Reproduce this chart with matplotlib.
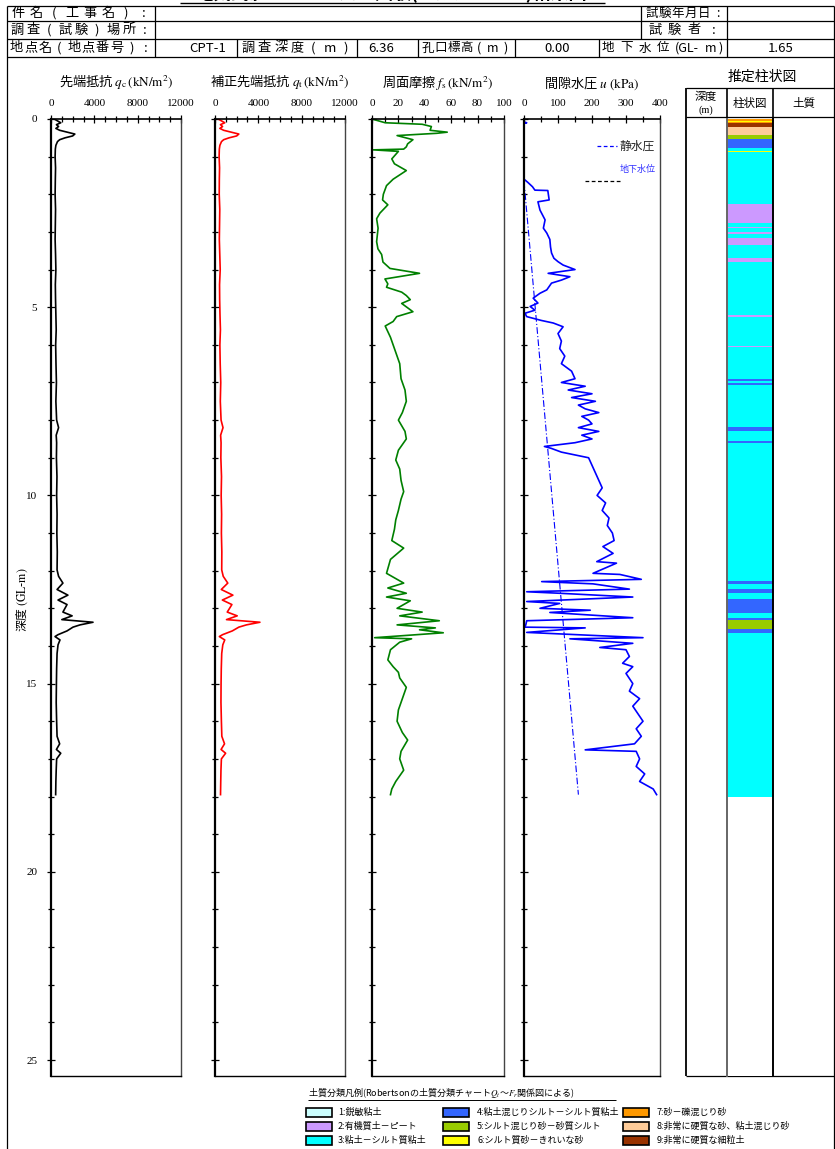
import matplotlib.pyplot as plt
from matplotlib.patches import Rectangle
from matplotlib.ticker import MultipleLocator

plt.rcParams['font.family'] = ['Noto Sans CJK JP', 'DejaVu Sans']
plt.rcParams['mathtext.fontset'] = 'stix'

W, H = 835, 1149

# ---- data ----
gwl = 1.65  # 地下水位 (GL-m)

qc_depth = [0.00, 0.05, 0.10, 0.15, 0.20, 0.25, 0.30, 0.35, 0.40, 0.45,
            0.50, 0.55, 0.60, 0.70, 0.80, 1.00, 1.30, 1.60, 2.00, 2.40,
            2.80, 3.20, 3.60, 4.00, 4.40, 4.80, 5.20, 5.60, 6.00, 6.50,
            7.00, 7.50, 8.00, 8.20, 8.40, 8.60, 9.00, 9.50, 10.0, 10.5,
            11.0, 11.5, 11.98, 12.15, 12.33, 12.50, 12.65, 12.78, 12.90, 13.10,
            13.20, 13.30, 13.37, 13.44, 13.50, 13.60, 13.70, 13.75, 13.84, 13.97,
            14.20, 14.60, 15.0, 15.5, 16.0, 16.4, 16.6, 16.75, 16.85, 17.0,
            17.3, 17.6, 17.95]
qc = [300, 600, 900, 500, 700, 450, 800, 1500, 2200, 2000,
      1300, 800, 600, 450, 400, 380, 420, 400, 380, 420,
      400, 380, 420, 450, 400, 420, 450, 480, 430, 460,
      500, 450, 520, 700, 480, 520, 500, 550, 520, 560,
      540, 580, 560, 700, 1100, 560, 1560, 650, 1480, 1100,
      1950, 1000, 3880, 2680, 2030, 1480, 650, 370, 830, 650,
      560, 520, 500, 480, 520, 560, 800, 500, 900, 520,
      480, 450, 430]

qt_depth = list(qc_depth)
qt = [300, 600, 900, 500, 700, 450, 800, 1500, 2200, 2000,
      1300, 800, 600, 450, 400, 380, 420, 400, 390, 440,
      420, 400, 440, 480, 420, 430, 460, 500, 450, 480,
      530, 490, 560, 740, 520, 560, 540, 600, 570, 610,
      590, 630, 620, 760, 1180, 580, 1650, 680, 1560, 1130,
      2050, 1060, 4150, 2900, 2200, 1600, 700, 400, 900, 720,
      620, 580, 560, 550, 590, 630, 880, 560, 980, 590,
      550, 530, 510]

fs_depth = [0.00, 0.10, 0.14, 0.20, 0.30, 0.35, 0.38, 0.44, 0.55, 0.66,
            0.74, 0.80, 0.82, 0.86, 1.06, 1.19, 1.37, 1.60, 1.77, 2.00,
            2.15, 2.28, 2.50, 2.65, 2.90, 3.26, 3.45, 3.60, 3.80, 3.97,
            4.10, 4.25, 4.38, 4.47, 4.60, 4.69, 4.80, 4.90, 5.12, 5.25,
            5.38, 5.50, 5.80, 6.10, 6.50, 6.90, 7.20, 7.50, 7.80, 8.00,
            8.30, 8.50, 8.80, 9.06, 9.30, 9.60, 9.90, 10.1, 10.4, 10.65,
            10.9, 11.2, 11.4, 11.7, 12.07, 12.33, 12.46, 12.60, 12.70, 12.80,
            13.00, 13.10, 13.20, 13.33, 13.44, 13.52, 13.57, 13.65, 13.78, 13.81,
            13.90, 14.10, 14.37, 14.55, 14.70, 14.85, 15.1, 15.4, 15.7, 16.0,
            16.3, 16.5, 16.8, 17.0, 17.3, 17.6, 17.8, 17.95]
fs = [0, 10, 38, 45, 44, 57, 49, 19, 31, 27,
      26, 24, 1, 20, 15, 17, 26, 16, 11, 8.6,
      8, 12, 6, 3.5, 4.6, 3.5, 4.5, 7.3, 8.3, 13.6,
      36, 9.8, 12, 11, 22.5, 26, 29, 22.5, 31, 18.7,
      16, 10, 14, 17, 21, 22, 25, 26, 23, 20,
      25, 26, 20, 18, 21, 22, 24, 22, 20, 18,
      17, 15, 24, 14, 11, 24, 12, 26, 11, 29,
      19, 38, 21, 51, 19, 48, 36, 54, 2, 30,
      21, 14, 12, 16, 20, 21, 26, 23, 20, 19,
      23, 27, 22, 21, 24, 18, 15, 14]

u_depth = [0.00, 0.08, 0.10, 0.12, 1.60, 1.62, 1.69, 1.80, 1.89, 1.90,
           2.15, 2.20, 2.42, 2.68, 2.90, 3.03, 3.20, 3.40, 3.56, 3.70,
           3.79, 3.88, 4.00, 4.10, 4.19, 4.28, 4.36, 4.54, 4.63, 4.76,
           4.89, 4.98, 5.08, 5.16, 5.25, 5.35, 5.42, 5.52, 5.70, 5.90,
           6.10, 6.30, 6.50, 6.70, 6.90, 7.00, 7.10, 7.20, 7.30, 7.40,
           7.50, 7.60, 7.70, 7.80, 7.90, 8.00, 8.10, 8.20, 8.30, 8.40,
           8.50, 8.60, 8.70, 8.75, 8.85, 9.00, 9.20, 9.40, 9.60, 9.80,
           10.0, 10.2, 10.4, 10.6, 10.8, 11.0, 11.2, 11.36, 11.54, 11.76,
           11.80, 12.07, 12.10, 12.23, 12.29, 12.35, 12.49, 12.56, 12.60, 12.70,
           12.82, 12.87, 13.00, 13.05, 13.11, 13.25, 13.33, 13.45, 13.50, 13.52,
           13.64, 13.78, 13.81, 13.93, 14.04, 14.10, 14.28, 14.46, 14.55, 14.73,
           15.0, 15.2, 15.4, 15.6, 15.8, 16.0, 16.2, 16.4, 16.6, 16.76,
           16.8, 17.0, 17.2, 17.4, 17.6, 17.8, 17.95]
u = [0, 0, 8, 0, 0, 3, 12, 25, 32, 70,
     74, 41, 47, 62, 57, 67, 76, 78, 81, 88,
     100, 115, 150, 71, 135, 110, 81, 67, 47, 27,
     41, 18, 32, 3, 8, 50, 86, 115, 100, 110,
     105, 120, 110, 140, 150, 110, 180, 130, 200, 140,
     210, 160, 180, 220, 170, 190, 200, 160, 220, 170,
     200, 150, 60, 80, 110, 190, 200, 210, 220, 230,
     215, 240, 230, 250, 245, 260, 265, 232, 262, 214,
     272, 203, 282, 345, 52, 203, 310, 8, 105, 320,
     8, 105, 47, 195, 76, 320, 8, 5, 0, 180,
     8, 350, 135, 320, 223, 300, 310, 290, 320, 300,
     320, 310, 340, 320, 335, 350, 330, 345, 325, 180,
     330, 340, 330, 355, 340, 380, 390]

hyd_depth = [gwl, 17.95]
hyd_u = [0, 160]

layer_top = [0.00, 0.04, 0.07, 0.11, 0.20, 0.42, 0.53, 0.78, 0.84, 0.87,
             2.26, 2.77, 2.87, 2.90, 3.00, 3.05, 3.15, 3.36, 3.68, 3.80,
             5.22, 5.25, 6.02, 6.05, 6.92, 6.96, 7.02, 7.06, 8.18, 8.30,
             8.56, 8.60, 12.28, 12.35, 12.49, 12.59, 12.75, 13.12, 13.26, 13.31,
             13.55, 13.66]
layer_bot = [0.04, 0.07, 0.11, 0.20, 0.42, 0.53, 0.78, 0.84, 0.87, 2.26,
             2.77, 2.87, 2.90, 3.00, 3.05, 3.15, 3.36, 3.68, 3.80, 5.22,
             5.25, 6.02, 6.05, 6.92, 6.96, 7.02, 7.06, 8.18, 8.30, 8.56,
             8.60, 12.28, 12.35, 12.49, 12.59, 12.75, 13.12, 13.26, 13.31, 13.55,
             13.66, 18.00]
layer_type = [7, 6, 7, 9, 8, 5, 4, 3, 6, 3,
              2, 3, 2, 3, 2, 3, 2, 3, 2, 3,
              2, 3, 2, 3, 4, 3, 4, 3, 4, 3,
              4, 3, 4, 3, 4, 3, 4, 3, 4, 5,
              4, 3]

soil_colors = {1: '#CCFFFF', 2: '#CC99FF', 3: '#00FFFF', 4: '#3366FF', 5: '#99CC00',
               6: '#FFFF00', 7: '#FF9900', 8: '#FFCC99', 9: '#993300'}
soil_names = ['1:鋭敏粘土', '2:有機質土－ピート', '3:粘土－シルト質粘土',
              '4:粘土混じりシルト－シルト質粘土', '5:シルト混じり砂－砂質シルト',
              '6:シルト質砂－きれいな砂', '7:砂－礫混じり砂',
              '8:非常に硬質な砂、粘土混じり砂', '9:非常に硬質な細粒土']

# ---- layout helpers (pixel coordinates) ----
def rect(x0, y0, x1, y1):
    return [x0 / W, 1 - y1 / H, (x1 - x0) / W, (y1 - y0) / H]

TOP, BOT = 119, 1076
DMAX = (BOT - TOP) / 37.64

fig = plt.figure(figsize=(W / 100, H / 100), dpi=100)
bg = fig.add_axes([0, 0, 1, 1])
bg.set_xlim(0, W)
bg.set_ylim(H, 0)
bg.axis('off')

def hline(y, x0, x1, lw=0.9):
    bg.plot([x0, x1], [y, y], color='black', lw=lw, solid_capstyle='butt')

def vline(x, y0, y1, lw=0.9):
    bg.plot([x, x], [y0, y1], color='black', lw=lw, solid_capstyle='butt')

def spread(tokens, x0, x1, y, size=9.5):
    n = len(tokens)
    step = (x1 - x0) / n
    for i, t in enumerate(tokens):
        bg.text(x0 + step * (i + 0.5), y, t, ha='center', va='center', fontsize=size)

# header title (its upper part lies above the page edge, as in the original)
bg.text(392, 3, '電気式静的コーン貫入試験(三成分コーン)結果図', ha='center', va='bottom',
        fontsize=13, fontweight='bold', clip_on=True)
hline(3, 180, 605, lw=1.0)

# header table
for y in [6, 21, 39, 57]:
    hline(y, 7, 834)
vline(7, 6, H)
vline(834, 6, H)
vline(155, 6, 57)
vline(727, 6, 57)
vline(641, 6, 39)
for x in [237, 357, 418, 515, 599]:
    vline(x, 39, 57)

spread(['件', '名', '(', '工', '事', '名', ')', ':'], 9, 153, 13.5)
spread(['調', '査', '(', '試', '験', ')', '場', '所', ':'], 9, 153, 30)
spread(['地', '点', '名', '(', '地', '点', '番', '号', ')', ':'], 9, 153, 48)
spread(['試', '験', '年', '月', '日', ':'], 645, 724, 13.5, size=9)
spread(['試', '験', '者', ':'], 645, 724, 30)
spread(['調', '査', '深', '度', '(', 'm', ')'], 240, 354, 48)
spread(['孔', '口', '標', '高', '(', 'm', ')'], 421, 512, 48, size=9)
for x, t in [(608, '地'), (627, '下'), (645, '水'), (663, '位'), (687, '(GL-'),
             (711, 'm'), (721, ')')]:
    bg.text(x, 48, t, ha='center', va='center', fontsize=9)
for x, t in [(208, 'CPT-1'), (381, '6.36'), (557, '0.00'), (781, '1.65')]:
    bg.text(x, 48, t, ha='center', va='center', fontsize=9.5)

# ---- CPT panels ----
panels = [
    (51, 181, qc_depth, qc, 'black', 12000, 4000, 1000, r'先端抵抗 $q_{\rm c}\,(\mathrm{kN/m^2})$'),
    (215, 345, qt_depth, qt, 'red', 12000, 4000, 1000, r'補正先端抵抗 $q_{\rm t}\,(\mathrm{kN/m^2})$'),
    (372, 504, fs_depth, fs, 'green', 100, 20, 10, r'周面摩擦 $f_{\rm s}\,(\mathrm{kN/m^2})$'),
    (524, 660, u_depth, u, 'blue', 400, 100, 50, r'間隙水圧 $u\ (\mathrm{kPa})$'),
]
axes = []
for i, (x0, x1, dep, val, col, xmax, major, minor, title) in enumerate(panels):
    ax = fig.add_axes(rect(x0, TOP, x1, BOT))
    ax.plot(val, dep, color=col, lw=1.2)
    ax.set_xlim(0, xmax)
    ax.set_ylim(DMAX, 0)
    ax.xaxis.tick_top()
    ax.xaxis.set_major_locator(MultipleLocator(major))
    ax.xaxis.set_minor_locator(MultipleLocator(minor))
    ax.yaxis.set_major_locator(MultipleLocator(5))
    ax.yaxis.set_minor_locator(MultipleLocator(1))
    ax.tick_params(which='both', direction='inout', top=True, bottom=False,
                   left=True, right=False, width=0.9, labelsize=8,
                   labelfontfamily='Liberation Serif', pad=5)
    ax.tick_params(which='major', length=6)
    ax.tick_params(which='minor', length=4)
    ax.tick_params(axis='y', labelleft=(i == 0), pad=7)
    ax.spines['left'].set_linewidth(1.6)
    ax.spines['top'].set_linewidth(1.2)
    ax.spines['right'].set_color('#444444')
    ax.spines['right'].set_linewidth(1.0)
    ax.spines['bottom'].set_linewidth(1.0)
    bg.text((x0 + x1) / 2, 83, title, ha='center', va='center', fontsize=9.5)
    axes.append(ax)

bg.text(22, 600, r'深度 $\mathrm{(GL}$-$\mathrm{m)}$', rotation=90, ha='center',
        va='center', fontsize=8.5)

ax4 = axes[3]
ax4.plot(hyd_u, hyd_depth, color='blue', lw=0.8, ls=(0, (6, 2, 1, 2)))
ax4.plot([215, 273], [0.72, 0.72], color='blue', lw=0.9, ls=(0, (3, 2)))
ax4.text(282, 0.72, '静水圧', fontsize=8.5, va='center', color='#222222')
ax4.plot([180, 288], [gwl, gwl], color='black', lw=0.9, ls=(0, (3, 2)))
ax4.text(282, gwl - 0.3, '地下水位', fontsize=6.5, va='center', color='#3333ff')

# ---- estimated soil column ----
bg.text(762, 77, '推定柱状図', ha='center', va='center', fontsize=10)
hline(88, 686, 835)
hline(117, 686, 835)
hline(BOT, 686, 835)
vline(686, 88, BOT, lw=1.3)
vline(727, 88, 119, lw=1.2)
vline(773, 88, 119, lw=1.2)
bg.text(706, 97, '深度', ha='center', va='center', fontsize=8)
bg.text(706, 110, '(m)', ha='center', va='center', fontsize=7.5,
        family='Liberation Serif')
bg.text(750, 103, '柱状図', ha='center', va='center', fontsize=8.3)
bg.text(804, 103, '土質', ha='center', va='center', fontsize=8.3)

col = fig.add_axes(rect(727, TOP, 773, BOT))
col.barh(layer_top, 1, height=[b - t for t, b in zip(layer_top, layer_bot)],
         left=0, align='edge', color=[soil_colors[k] for k in layer_type], lw=0)
col.set_xlim(0, 1)
col.set_ylim(DMAX, 0)
col.set_xticks([])
col.set_yticks([])
col.spines['top'].set_visible(False)
col.spines['bottom'].set_visible(False)
col.spines['left'].set_color('#666666')
col.spines['left'].set_linewidth(1.4)
col.spines['right'].set_linewidth(1.4)

# ---- soil legend ----
bg.text(308, 1093, r'土質分類凡例(Robertsonの土質分類チャート$Q_t$～$F_r$関係図による)',
        ha='left', va='center', fontsize=6.5)
hline(1100, 308, 616, lw=0.7)
box_x = [306, 443, 623]
text_x = [338, 477, 657]
row_y = [1112, 1126, 1140]
for k in range(9):
    c, r = k // 3, k % 3
    bg.add_patch(Rectangle((box_x[c], row_y[r] - 4.5), 26, 9,
                           facecolor=soil_colors[k + 1], edgecolor='black', lw=1.2))
    bg.text(text_x[c], row_y[r], soil_names[k], ha='left', va='center', fontsize=6.5)

fig.savefig('out.png', dpi=100)
